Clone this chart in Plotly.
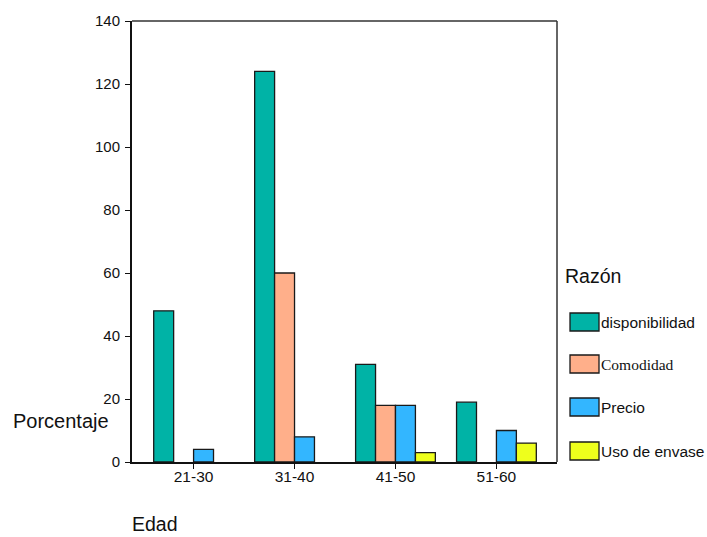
import plotly.graph_objects as go

# Age groups and share of respondents (%) by main reason
edades = ["21-30", "31-40", "41-50", "51-60"]
razones = ["disponibilidad", "Comodidad", "Precio", "Uso de envase"]
disponibilidad = [48, 124, 31, 19]
comodidad = [None, 60, 18, None]
precio = [4, 8, 18, 10]
uso_envase = [None, None, 3, 6]

series = [disponibilidad, comodidad, precio, uso_envase]
colores = ["#00B3A6", "#FFAF8A", "#33B6FF", "#EEFF1C"]

W, H = 707, 537
L, R, T, B = 132, 557, 21, 462  # plot area in pixels


def px(x):
    return (x - L) / (R - L)


def py(y):
    return (B - y) / (B - T)


fig = go.Figure()
for nombre, vals, col in zip(razones, series, colores):
    fig.add_trace(go.Bar(
        x=edades, y=vals, name=nombre,
        marker=dict(color=col, line=dict(color="#1a1a1a", width=1.3)),
        showlegend=False,
    ))

font_main = "Liberation Sans, Arial, sans-serif"
font_serif = "Liberation Serif, Times New Roman, serif"

shapes = [
    # frame top and right
    dict(type="line", xref="paper", yref="paper", x0=0, x1=1, y0=1, y1=1,
         line=dict(color="#333333", width=1.5)),
    dict(type="line", xref="paper", yref="paper", x0=1, x1=1, y0=0, y1=1,
         line=dict(color="#333333", width=1.5)),
]
annotations = [
    dict(text="Porcentaje", xref="paper", yref="paper", x=px(11), y=py(421),
         xanchor="left", yanchor="middle", showarrow=False,
         font=dict(family=font_main, size=20, color="#111")),
    dict(text="Edad", xref="paper", yref="paper", x=px(131), y=py(536),
         xanchor="left", yanchor="bottom", showarrow=False, borderpad=0,
         font=dict(family=font_main, size=19.5, color="#111")),
    dict(text="Razón", xref="paper", yref="paper", x=px(563), y=py(276),
         xanchor="left", yanchor="middle", showarrow=False,
         font=dict(family=font_main, size=19.5, color="#111")),
]

# legend: swatch + label per reason
centros = [322, 364, 407, 451]
for nombre, col, cy in zip(razones, colores, centros):
    shapes.append(dict(type="rect", xref="paper", yref="paper",
                       x0=px(570), x1=px(599), y0=py(cy + 9), y1=py(cy - 9),
                       fillcolor=col, line=dict(color="#1a1a1a", width=1.3)))
    fam = font_serif if nombre == "Comodidad" else font_main
    annotations.append(dict(text=nombre, xref="paper", yref="paper",
                            x=px(599), y=py(cy), xanchor="left", yanchor="middle",
                            showarrow=False,
                            font=dict(family=fam, size=15.5, color="#111")))

fig.update_layout(
    width=W, height=H,
    margin=dict(l=L, r=W - R, t=T, b=H - B, pad=0),
    paper_bgcolor="white", plot_bgcolor="white",
    barmode="group", bargap=0.21, bargroupgap=0,
    font=dict(family=font_main, size=15, color="#111"),
    shapes=shapes, annotations=annotations,
    xaxis=dict(
        range=[-0.61, 3.6], showgrid=False, zeroline=False,
        showline=True, linecolor="#111", linewidth=2,
        ticks="outside", ticklen=5, tickcolor="#111", tickwidth=1,
        tickfont=dict(family=font_main, size=15.5), ticklabelstandoff=-6,
    ),
    yaxis=dict(
        range=[0, 140], dtick=20, showgrid=False, zeroline=False,
        showline=True, linecolor="#111", linewidth=2,
        ticks="outside", ticklen=5, tickcolor="#111", tickwidth=1,
        tickfont=dict(family=font_main, size=15), ticklabelstandoff=2,
    ),
)

fig.write_html("out.html")
